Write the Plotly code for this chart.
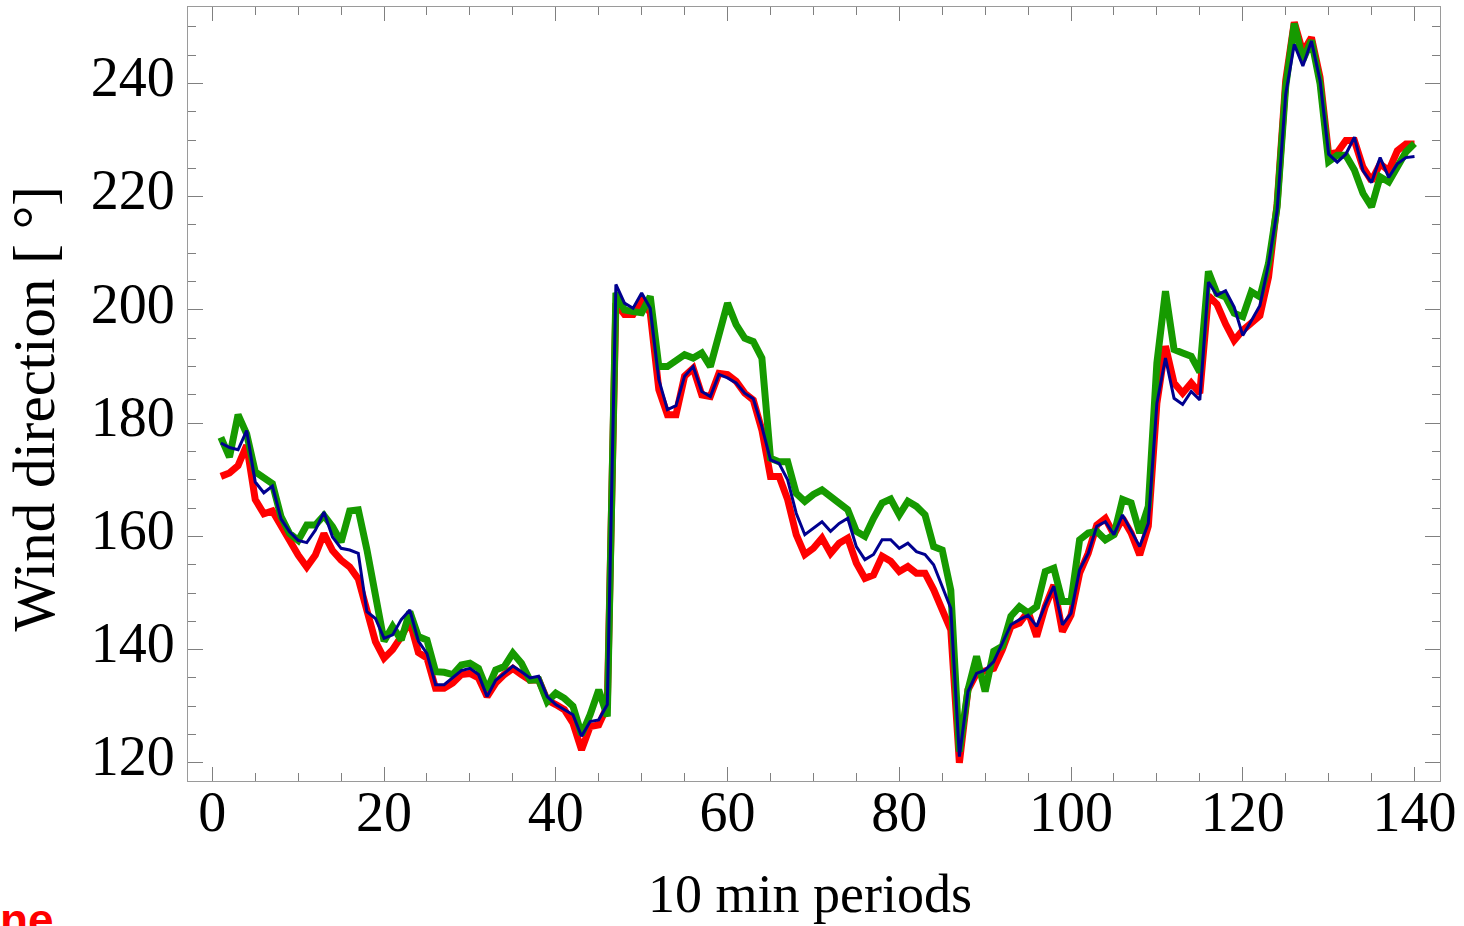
import plotly.graph_objects as go

periods = list(range(1, 141))

red_series = [
    170.6, 171.2, 172.5, 176.1, 166.5, 164.0, 164.5, 162.0, 159.0, 156.7,
    154.6, 156.7, 160.5, 157.5, 155.8, 154.6, 152.5, 147.0, 141.4, 138.5,
    140.0, 142.3, 145.0, 139.5, 138.5, 133.2, 133.2, 134.1, 135.6, 135.8,
    135.0, 131.7, 134.1, 135.6, 136.7, 135.6, 134.6, 134.7, 131.1, 130.3,
    129.4, 127.0, 122.3, 126.4, 126.7, 130.0, 201.2, 199.2, 199.2, 201.8,
    199.5, 185.9, 181.5, 181.5, 188.3, 189.7, 185.0, 184.7, 188.8, 188.6,
    187.4, 185.3, 184.1, 178.8, 170.6, 170.6, 166.5, 160.3, 156.8, 157.9,
    159.7, 157.0, 158.8, 159.7, 155.3, 152.6, 153.2, 156.5, 155.6, 153.8,
    154.7, 153.5, 153.5, 150.6, 147.0, 143.5, 120.0, 132.9, 135.8, 136.1,
    136.7, 140.0, 144.1, 144.7, 146.7, 142.3, 147.6, 151.4, 143.2, 146.1,
    153.5, 157.0, 162.0, 163.2, 160.3, 163.2, 160.6, 156.7, 161.8, 183.5,
    193.6, 187.1, 185.3, 187.1, 185.3, 202.5, 201.0, 197.5, 194.6, 196.4,
    197.8, 199.0, 205.8, 218.7, 240.5, 250.8, 245.5, 248.1, 241.1, 227.5,
    227.8, 229.9, 229.9, 225.2, 222.8, 225.8, 224.6, 228.1, 229.3, 229.3,
]

green_series = [
    177.5, 174.0, 181.5, 178.1, 171.4, 170.5, 169.3, 163.5, 160.5, 159.3,
    162.0, 162.0, 163.7, 161.7, 159.0, 164.5, 164.7, 157.7, 149.5, 141.5,
    144.1, 141.7, 146.7, 142.3, 141.7, 136.1, 136.0, 135.6, 137.3, 137.6,
    136.7, 132.9, 136.4, 137.0, 139.4, 137.6, 134.6, 134.7, 130.8, 132.3,
    131.4, 130.0, 125.0, 128.5, 132.9, 128.2, 203.0, 200.0, 199.7, 199.5,
    202.4, 190.0, 190.0, 191.2, 192.1, 191.5, 192.4, 190.0, 196.2, 201.2,
    197.4, 195.0, 194.4, 191.5, 173.8, 173.2, 173.2, 167.6, 166.2, 167.4,
    168.2, 166.9, 165.8, 164.7, 160.9, 160.0, 163.2, 165.9, 166.6, 163.8,
    166.2, 165.3, 163.8, 158.2, 157.6, 150.5, 122.0, 132.9, 138.8, 132.6,
    139.7, 140.6, 145.9, 147.6, 146.5, 147.6, 153.8, 154.4, 148.5, 148.5,
    159.4, 160.6, 160.9, 159.4, 160.3, 166.5, 165.9, 160.6, 165.3, 190.6,
    203.3, 193.0, 192.4, 191.8, 189.0, 206.8, 202.9, 202.3, 199.4, 198.8,
    203.2, 202.3, 208.2, 218.2, 239.4, 250.6, 244.1, 247.6, 240.0, 226.2,
    227.3, 227.3, 224.7, 220.6, 218.2, 223.5, 222.6, 225.3, 227.9, 229.4,
]

blue_series = [
    176.5, 175.7, 175.3, 178.7, 169.6, 167.7, 168.9, 163.1, 160.8, 159.3,
    158.9, 161.1, 164.3, 159.9, 157.9, 157.6, 157.0, 146.7, 145.5, 142.0,
    142.6, 145.3, 147.0, 141.5, 139.3, 133.8, 133.8, 135.0, 136.3, 136.7,
    135.6, 131.7, 134.6, 135.8, 137.1, 136.1, 135.0, 135.3, 131.7, 130.3,
    129.4, 128.5, 124.7, 127.3, 127.6, 130.3, 204.5, 201.2, 200.3, 203.0,
    200.3, 187.7, 182.4, 183.1, 188.3, 190.0, 185.6, 184.7, 188.6, 188.0,
    187.1, 185.3, 184.3, 179.4, 173.5, 172.9, 170.0, 164.1, 160.3, 161.5,
    162.6, 160.9, 162.3, 163.2, 158.2, 155.9, 156.8, 159.4, 159.4, 157.9,
    158.8, 157.3, 156.8, 155.0, 151.2, 147.3, 121.1, 132.6, 135.8, 136.4,
    137.9, 141.1, 144.4, 145.3, 146.1, 144.1, 147.9, 151.2, 144.4, 146.4,
    154.1, 157.0, 161.8, 162.6, 160.3, 163.8, 160.9, 158.2, 162.3, 183.5,
    191.5, 184.4, 183.3, 185.6, 184.1, 204.9, 202.6, 203.4, 200.5, 195.5,
    198.1, 200.8, 208.1, 217.5, 238.1, 246.9, 243.1, 247.5, 240.5, 227.5,
    226.1, 227.5, 230.5, 224.6, 222.5, 226.9, 223.4, 225.8, 226.9, 227.1,
]

x_ticks = [0, 20, 40, 60, 80, 100, 120, 140]
y_ticks = [120, 140, 160, 180, 200, 220, 240]

SERIF = "Liberation Serif, Times New Roman, serif"
FRAME = "#9a9a9a"
TICKC = "#808080"

fig = go.Figure()
fig.add_trace(go.Scatter(x=periods, y=red_series, mode="lines",
                         line=dict(color="#ff0000", width=7), showlegend=False))
fig.add_trace(go.Scatter(x=periods, y=green_series, mode="lines",
                         line=dict(color="#169a00", width=7), showlegend=False))
fig.add_trace(go.Scatter(x=periods, y=blue_series, mode="lines",
                         line=dict(color="#00008f", width=3), showlegend=False))

axis_common = dict(
    showgrid=False, zeroline=False, showline=True, linecolor=FRAME, linewidth=1,
    mirror="allticks", ticks="inside", tickcolor=TICKC, tickwidth=1,
    tickfont=dict(family=SERIF, size=56, color="black"),
)

fig.update_xaxes(
    range=[-2.83, 142.97], tickvals=x_ticks, ticklen=14, ticklabelstandoff=-18,
    minor=dict(dtick=5, tick0=0, ticks="inside", ticklen=8, tickcolor=TICKC, tickwidth=1),
    **axis_common,
)
fig.update_yaxes(
    range=[116.8, 253.5], tickvals=y_ticks, ticklen=15, ticklabelstandoff=1,
    ticklabelshift=-7,
    minor=dict(dtick=5, tick0=0, ticks="inside", ticklen=8, tickcolor=TICKC, tickwidth=1),
    **axis_common,
)

fig.add_annotation(text="10 min periods", xref="paper", yref="paper",
                   x=0.4968, y=-0.1462, xanchor="center", yanchor="middle",
                   showarrow=False, font=dict(family=SERIF, size=54, color="black"))
fig.add_annotation(text="Wind direction [ °]", xref="paper", yref="paper",
                   x=-0.1230, y=0.4812, xanchor="center", yanchor="middle",
                   textangle=-90, showarrow=False,
                   font=dict(family=SERIF, size=59, color="black"))
fig.add_annotation(text="<b>ne</b>", xref="paper", yref="paper",
                   x=-0.1054, y=-0.1799, xanchor="right", yanchor="middle",
                   showarrow=False,
                   font=dict(family="Liberation Sans, Arial, sans-serif", size=46, color="#ff0000"))

fig.update_layout(
    width=1464, height=926, autosize=False,
    margin=dict(l=188, r=24, t=7, b=145),
    paper_bgcolor="white", plot_bgcolor="white",
)

fig.write_html("out.html")
